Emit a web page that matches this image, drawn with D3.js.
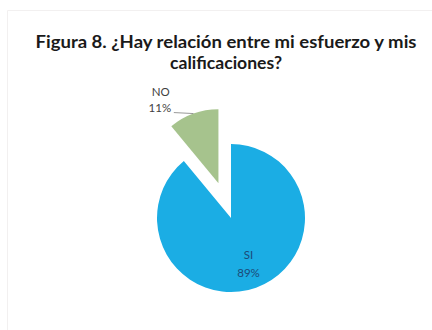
<!DOCTYPE html>
<html>
<head>
<meta charset="utf-8">
<script src="https://cdn.jsdelivr.net/npm/d3@7"></script>
<style>
  html, body { margin: 0; padding: 0; background: #fff; }
  svg { display: block; }
</style>
</head>
<body>
<div id="chart"></div>
<script>
// data
const categories = ['SI', 'NO'];
const percents = [89, 11];
const titleLines = ['Figura 8. ¿Hay relación entre mi esfuerzo y mis', 'calificaciones?'];

const totalWidth = 432;
const totalHeight = 330;
const cx = 231;
const cy = 218;
const radius = 74;
const explode = 0.5; // fraction of radius for the NO slice

const color = d3.scaleOrdinal()
  .domain(categories)
  .range(['#1badE4', '#a6c38d']);

let svg = d3.select('#chart').append('svg')
    .attr('width', totalWidth)
    .attr('height', totalHeight);

// faint frame
svg.append('path')
    .attr('d', 'M7.5,' + totalHeight + 'V10.5H' + totalWidth)
    .attr('fill', 'none')
    .attr('stroke', '#f2f0f0')
    .attr('stroke-width', 1);

// title
let title = svg.append('text')
    .attr('text-anchor', 'middle')
    .attr('font-family', 'Lato, sans-serif')
    .attr('font-weight', 'bold')
    .attr('font-size', 16.5)
    .attr('fill', '#1a1a1a');

title.selectAll('tspan').data(titleLines)
  .enter().append('tspan')
    .attr('x', 226)
    .attr('y', function(d, i) {
      return 48 + i * 21;
    })
    .attr('textLength', function(d, i) {
      return i === 0 ? 381 : 112;
    })
    .attr('lengthAdjust', 'spacingAndGlyphs')
    .text(function(d) {
      return d;
    });

const pie = d3.pie()
  .sort(null)
  .value(function(d) {
    return d.value;
  });

const data = pie(categories.map(function(c, i) {
  return {key: c, value: percents[i]};
}));

const arc = d3.arc().innerRadius(0).outerRadius(radius);

function offset(d) {
  if (d.data.key !== 'NO') return [0, 0];
  const a = (d.startAngle + d.endAngle) / 2;
  return [Math.sin(a) * radius * explode, -Math.cos(a) * radius * explode];
}

let g = svg.append('g')
    .attr('transform', 'translate(' + cx + ',' + cy + ')');

let slices = g.selectAll('g.slice').data(data)
  .enter().append('g')
    .attr('class', 'slice')
    .attr('transform', function(d) {
      const o = offset(d);
      return 'translate(' + o[0] + ',' + o[1] + ')';
    });

slices.append('path')
    .attr('d', arc)
    .attr('fill', function(d) {
      return color(d.data.key);
    });

// labels
const inLabelArc = d3.arc().innerRadius(radius * 0.66).outerRadius(radius * 0.66);

slices.filter(function(d) {
  return d.data.key === 'SI';
}).each(function(d) {
  const c = inLabelArc.centroid(d);
  const t = d3.select(this).append('text')
      .attr('text-anchor', 'middle')
      .attr('font-family', 'Lato, sans-serif')
      .attr('font-size', 11.5)
      .attr('fill', '#1c4a78');
  t.append('tspan').attr('x', c[0] + 1).attr('y', c[1] - 5).text(d.data.key);
  t.append('tspan').attr('x', c[0] + 1).attr('y', c[1] + 13).text(d.data.value + '%');
});

slices.filter(function(d) {
  return d.data.key === 'NO';
}).each(function(d) {
  const mid = (d.startAngle + d.endAngle) / 2;
  const edge = [Math.sin(mid) * radius, -Math.cos(mid) * radius];
  const la = d.startAngle + (d.endAngle - d.startAngle) * 0.1;
  const lr = radius * 1.36;
  const lp = [Math.sin(la) * lr, -Math.cos(la) * lr];
  const sel = d3.select(this);
  sel.append('path')
      .attr('d', 'M' + edge[0] + ',' + edge[1] + 'L' + (lp[0] + 14) + ',' + (edge[1] - 1))
      .attr('fill', 'none')
      .attr('stroke', '#7f7f7f')
      .attr('stroke-width', 0.8);
  const t = sel.append('text')
      .attr('text-anchor', 'middle')
      .attr('font-family', 'Lato, sans-serif')
      .attr('font-size', 11.5)
      .attr('fill', '#3f3f3f');
  t.append('tspan').attr('x', lp[0] + 1).attr('y', lp[1] - 5).text(d.data.key);
  t.append('tspan').attr('x', lp[0]).attr('y', lp[1] + 11).text(d.data.value + '%');
});
</script>
</body>
</html>
